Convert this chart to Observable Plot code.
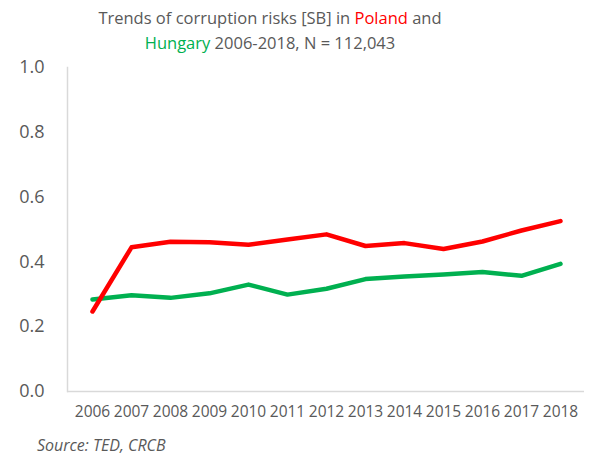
<!DOCTYPE html>
<html>
<head>
<meta charset="utf-8">
<script src="https://cdn.jsdelivr.net/npm/d3@7"></script>
<script src="https://cdn.jsdelivr.net/npm/@observablehq/plot@0.6"></script>
<style>
  body { margin: 0; background: #fff; font-family: "Open Sans", sans-serif; }
  #wrap { width: 592px; height: 461px; position: relative; }
  #title { position: absolute; left: 0; width: 540px; top: 5px; text-align: center; font-size: 16.5px; line-height: 25px; color: #595959; }
  #chart { position: absolute; left: 0; top: 55px; }
  #caption { position: absolute; left: 37px; top: 434px; font-size: 16px; font-style: italic; color: #595959; }
</style>
</head>
<body>
<div id="wrap">
  <div id="title">Trends of corruption risks [SB] in <span style="color:#ff0000">Poland</span> and<br><span style="color:#00b050">Hungary</span> 2006-2018, N = 112,043</div>
  <div id="chart"></div>
  <div id="caption">Source: TED, CRCB</div>
</div>
<script>
const years = ["2006","2007","2008","2009","2010","2011","2012","2013","2014","2015","2016","2017","2018"];
const poland = [0.247, 0.445, 0.462, 0.461, 0.453, 0.469, 0.485, 0.449, 0.458, 0.440, 0.463, 0.497, 0.526];
const hungary = [0.284, 0.297, 0.289, 0.303, 0.330, 0.299, 0.317, 0.347, 0.355, 0.361, 0.369, 0.357, 0.394];
const yTicks = [0, 0.2, 0.4, 0.6, 0.8, 1.0];

const pl = years.map((y, i) => ({year: y, value: poland[i]}));
const hu = years.map((y, i) => ({year: y, value: hungary[i]}));

const chart = Plot.plot({
  width: 592,
  height: 375,
  marginLeft: 67,
  marginRight: 8,
  marginTop: 12,
  marginBottom: 39,
  style: {fontFamily: "Open Sans, sans-serif", color: "#595959", background: "transparent"},
  x: {type: "point", domain: years, padding: 0.5, label: null},
  y: {domain: [0, 1], label: null},
  marks: [
    Plot.frame({anchor: "left", stroke: "#d9d9d9", strokeWidth: 1.5}),
    Plot.ruleY([0], {stroke: "#d9d9d9", strokeWidth: 1.5}),
    Plot.axisY({ticks: yTicks, tickSize: 0, tickPadding: 23, tickFormat: d3.format(".1f"), fontSize: 18, label: null}),
    Plot.axisX({tickSize: 0, tickPadding: 14, fontSize: 15.5, label: null}),
    Plot.line(hu, {x: "year", y: "value", stroke: "#00b050", strokeWidth: 4.5, strokeLinecap: "round", strokeLinejoin: "round"}),
    Plot.line(pl, {x: "year", y: "value", stroke: "#ff0000", strokeWidth: 4.5, strokeLinecap: "round", strokeLinejoin: "round"})
  ]
});
document.getElementById("chart").appendChild(chart);
</script>
</body>
</html>
